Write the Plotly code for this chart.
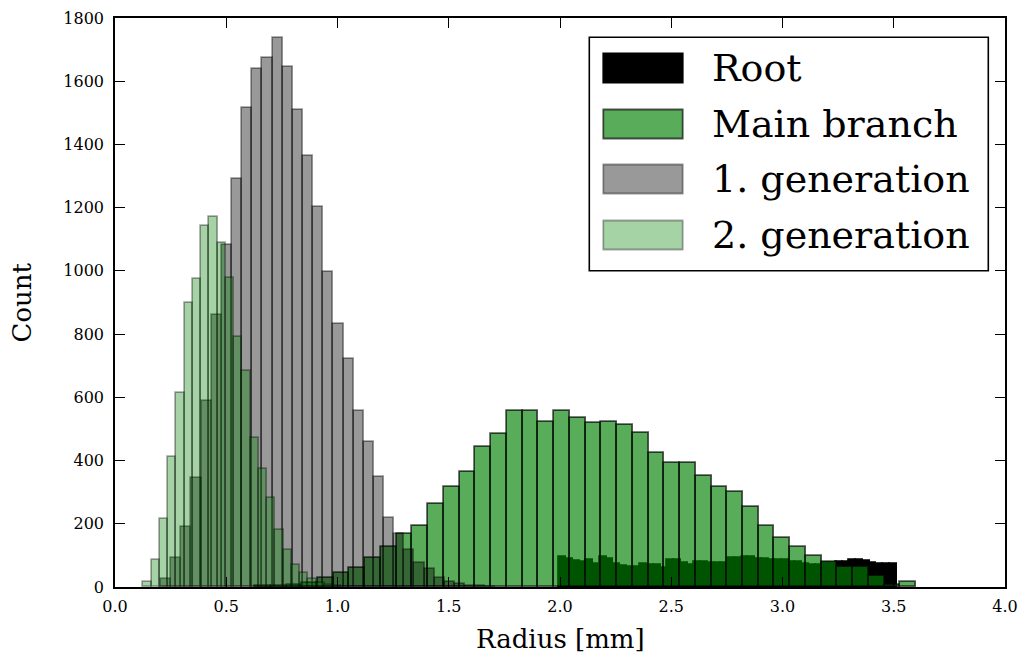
import plotly.graph_objects as go

# ---------------- data (pre-binned histogram counts) ----------------
ROOT_BIN_START = 1.9969
ROOT_BIN_WIDTH = 0.030328
ROOT_COUNTS = [94, 90, 83, 80, 85, 73, 96, 90, 73, 67, 64, 62, 73, 70, 70, 59, 85, 85, 77, 70,
               79, 79, 77, 77, 75, 91, 91, 96, 96, 90, 88, 86, 85, 85, 80, 80, 72, 70, 70, 75,
               76, 80, 80, 84, 84, 83, 75, 73, 73, 72]

MAIN_BIN_START = 0.0635
MAIN_BIN_WIDTH = 0.07074
MAIN_COUNTS = [0, 0, 0, 0, 0, 0, 0, 0, 2, 3, 6, 12, 29, 44, 60, 92, 127,
               168, 193, 262, 315, 363, 444, 484, 558, 558, 521, 558, 534, 520, 523, 512,
               488, 423, 391, 391, 351, 317, 299, 254, 194, 156, 126, 98, 78, 64, 64, 36, 5, 15]

GEN1_BIN_START = 0.2067
GEN1_BIN_WIDTH = 0.04557
GEN1_COUNTS = [25, 91, 191, 344, 589, 862, 1082, 1290, 1516, 1638, 1672, 1736, 1646, 1509,
               1364, 1201, 996, 831, 721, 557, 460, 347, 219, 167, 117, 77, 56, 27, 17, 9,
               4, 2, 1, 0, 0, 0, 0, 0, 0, 0, 0, 0, 0, 0, 0, 0, 0, 0, 0, 0]

GEN2_BIN_START = 0.1272
GEN2_BIN_WIDTH = 0.03708
GEN2_COUNTS = [15, 85, 215, 410, 613, 900, 974, 1142, 1170, 1089, 978, 792, 683, 470, 372,
               281, 180, 117, 70, 45, 24, 12, 5, 2, 0, 0, 0, 0, 0, 0, 0, 0, 0, 0, 0, 0, 0,
               0, 0, 0, 0, 0, 0, 0, 0, 0, 0, 0, 0, 0]

SERIES_NAMES = ["Root", "Main branch", "1. generation", "2. generation"]
X_TICKS = [0.0, 0.5, 1.0, 1.5, 2.0, 2.5, 3.0, 3.5, 4.0]
Y_TICKS = [0, 200, 400, 600, 800, 1000, 1200, 1400, 1600, 1800]

# ---------------- styles ----------------
FONT = "DejaVu Serif"
STYLES = [
    dict(fill="rgba(0,0,0,1)", edge="rgba(0,0,0,1)"),
    dict(fill="rgba(0,128,0,0.65)", edge="rgba(0,0,0,0.65)"),
    dict(fill="rgba(0,0,0,0.4)", edge="rgba(0,0,0,0.4)"),
    dict(fill="rgba(0,128,0,0.35)", edge="rgba(0,0,0,0.35)"),
]
EDGE_W = 1.8

W, H = 1025, 657
L, R, T, B = 115, 20, 18, 70
PW, PH = W - L - R, H - T - B


def px_x(p):
    return (p - L) / PW


def px_y(p):
    return (H - B - p) / PH


fig = go.Figure()
series = [
    (ROOT_BIN_START, ROOT_BIN_WIDTH, ROOT_COUNTS),
    (MAIN_BIN_START, MAIN_BIN_WIDTH, MAIN_COUNTS),
    (GEN1_BIN_START, GEN1_BIN_WIDTH, GEN1_COUNTS),
    (GEN2_BIN_START, GEN2_BIN_WIDTH, GEN2_COUNTS),
]
for (start, width, counts), name, st in zip(series, SERIES_NAMES, STYLES):
    xs = [start + width * (i + 0.5) for i, c in enumerate(counts) if c > 0]
    ys = [c for c in counts if c > 0]
    fig.add_trace(go.Bar(
        x=xs, y=ys, width=width, name=name,
        marker=dict(color=st["fill"], line=dict(color=st["edge"], width=EDGE_W)),
        showlegend=False, hoverinfo="skip",
    ))

axis_common = dict(
    ticks="inside", ticklen=10, tickwidth=1.3, tickcolor="black",
    showline=True, linecolor="black", linewidth=1.6, mirror="ticks",
    showgrid=False, zeroline=False,
    tickfont=dict(family=FONT, size=16, color="black"),
)
fig.update_xaxes(range=[0, 4], tickvals=X_TICKS,
                 ticktext=[f"{v:.1f}" for v in X_TICKS], ticklabelstandoff=4, **axis_common)
fig.update_yaxes(range=[0, 1800], tickvals=Y_TICKS,
                 ticktext=[str(v) for v in Y_TICKS], ticklabelstandoff=6, **axis_common)

shapes = []
annotations = []
# legend frame
shapes.append(dict(type="rect", xref="paper", yref="paper",
                   x0=px_x(589.3), x1=px_x(988.3), y0=px_y(270.7), y1=px_y(37.3),
                   line=dict(color="black", width=1.6), fillcolor="white", layer="above"))
row_centers = [68, 124, 179, 235]
for name, st, yc in zip(SERIES_NAMES, STYLES, row_centers):
    shapes.append(dict(type="rect", xref="paper", yref="paper",
                       x0=px_x(603.3), x1=px_x(682.7), y0=px_y(yc + 14.5), y1=px_y(yc - 14.5),
                       line=dict(color=st["edge"], width=EDGE_W), fillcolor=st["fill"],
                       layer="above"))
    annotations.append(dict(text=name, xref="paper", yref="paper",
                            x=px_x(710), y=px_y(yc), xanchor="left", yanchor="middle",
                            showarrow=False, font=dict(family=FONT, size=38, color="black")))

annotations.append(dict(text="Radius [mm]", xref="paper", yref="paper",
                        x=0.5, y=px_y(639), xanchor="center", yanchor="middle",
                        showarrow=False, font=dict(family=FONT, size=26, color="black")))
annotations.append(dict(text="Count", xref="paper", yref="paper",
                        x=px_x(21), y=0.5, xanchor="center", yanchor="middle", textangle=-90,
                        showarrow=False, font=dict(family=FONT, size=26, color="black")))

fig.update_layout(
    width=W, height=H, margin=dict(l=L, r=R, t=T, b=B, autoexpand=False),
    paper_bgcolor="white", plot_bgcolor="white",
    barmode="overlay", bargap=0,
    shapes=shapes, annotations=annotations,
    showlegend=False,
)

fig.write_html("out.html")
